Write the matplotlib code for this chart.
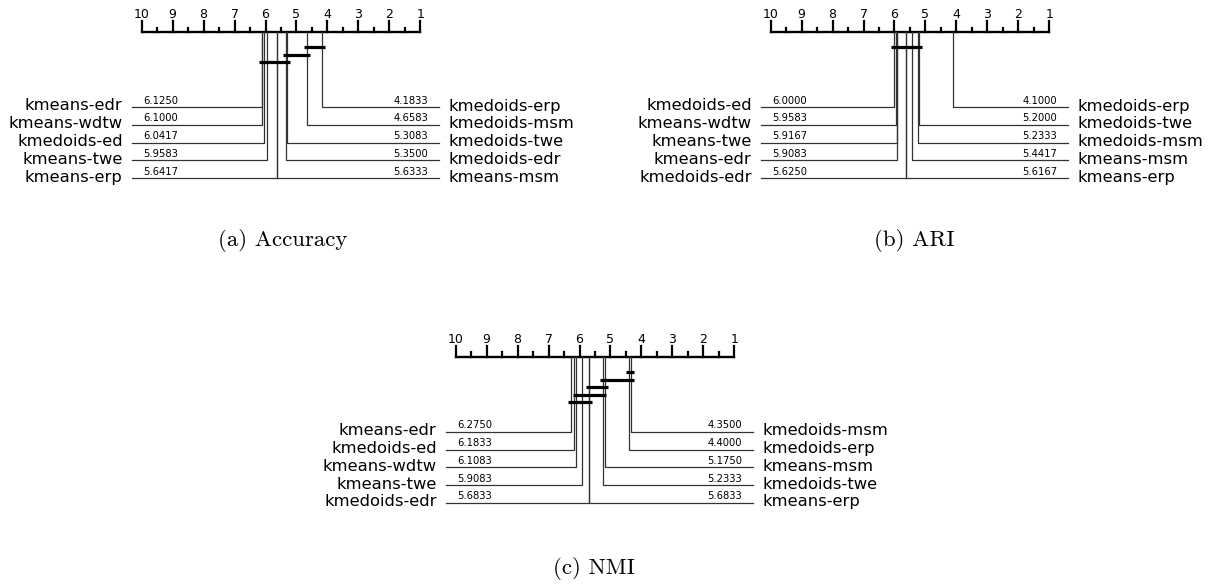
import matplotlib.pyplot as plt

# Average ranks per panel; each side is listed top row first.
acc_left_names = ["kmeans-edr", "kmeans-wdtw", "kmedoids-ed", "kmeans-twe", "kmeans-erp"]
acc_left_ranks = [6.1250, 6.1000, 6.0417, 5.9583, 5.6417]
acc_right_names = ["kmedoids-erp", "kmedoids-msm", "kmedoids-twe", "kmedoids-edr", "kmeans-msm"]
acc_right_ranks = [4.1833, 4.6583, 5.3083, 5.3500, 5.6333]
acc_cliques = [("kmedoids-msm", "kmedoids-erp"),
               ("kmedoids-edr", "kmedoids-msm"),
               ("kmeans-edr", "kmedoids-twe")]

ari_left_names = ["kmedoids-ed", "kmeans-wdtw", "kmeans-twe", "kmeans-edr", "kmedoids-edr"]
ari_left_ranks = [6.0000, 5.9583, 5.9167, 5.9083, 5.6250]
ari_right_names = ["kmedoids-erp", "kmedoids-twe", "kmedoids-msm", "kmeans-msm", "kmeans-erp"]
ari_right_ranks = [4.1000, 5.2000, 5.2333, 5.4417, 5.6167]
ari_cliques = [("kmedoids-ed", "kmedoids-twe")]

nmi_left_names = ["kmeans-edr", "kmedoids-ed", "kmeans-wdtw", "kmeans-twe", "kmedoids-edr"]
nmi_left_ranks = [6.2750, 6.1833, 6.1083, 5.9083, 5.6833]
nmi_right_names = ["kmedoids-msm", "kmedoids-erp", "kmeans-msm", "kmedoids-twe", "kmeans-erp"]
nmi_right_ranks = [4.3500, 4.4000, 5.1750, 5.2333, 5.6833]
nmi_cliques = [("kmedoids-erp", "kmedoids-msm"),
               ("kmedoids-twe", "kmedoids-msm"),
               ("kmedoids-edr", "kmeans-msm"),
               ("kmeans-wdtw", "kmedoids-twe"),
               ("kmeans-edr", "kmedoids-edr")]

W, H = 1214, 585
PPR = 30.95          # pixels per rank unit
LOW, HIGH = 1, 10


def draw_cd(ax, left_names, left_ranks, right_names, right_ranks, cliques):
    px = 1.0 / PPR
    ax.set_xlim(HIGH + 150 * px, HIGH - 450 * px)
    ax.set_ylim(160, -30)
    ax.axis("off")

    # rank scale
    ax.plot([HIGH, LOW], [0, 0], color="k", lw=1.7, solid_capstyle="projecting")
    r = LOW
    while r <= HIGH:
        big = float(r).is_integer()
        ax.plot([r, r], [0, -11 if big else -4.5], color="k", lw=1.6)
        if big:
            ax.text(r, -14, str(int(r)), ha="center", va="baseline", fontsize=9)
        r += 0.5

    row0, step = 75, 17.8
    for i, (name, rank) in enumerate(zip(left_names, left_ranks)):
        y = row0 + i * step
        ax.plot([rank, rank, HIGH + 10 * px], [0, y, y], color="0.2", lw=0.9)
        ax.text(HIGH - 1.5 * px, y - 1.5, f"{rank:.4f}", ha="left", va="bottom", fontsize=7.2)
        ax.text(HIGH + 19 * px, y - 1, name, ha="right", va="center", fontsize=11.8)
    for i, (name, rank) in enumerate(zip(right_names, right_ranks)):
        y = row0 + i * step
        ax.plot([rank, rank, LOW - 19 * px], [0, y, y], color="0.2", lw=0.9)
        ax.text(LOW - 8 * px, y - 1.5, f"{rank:.4f}", ha="right", va="bottom", fontsize=7.2)
        ax.text(LOW - 28.5 * px, y - 1, name, ha="left", va="center", fontsize=11.8)

    lookup = dict(zip(left_names + right_names, left_ranks + right_ranks))
    for k, (worst, best) in enumerate(cliques):
        y = 15.3 + k * 7.5
        ax.plot([lookup[worst] + 3 * px, lookup[best] - 3 * px], [y, y],
                color="k", lw=2.3, solid_capstyle="butt")


fig = plt.figure(figsize=(W / 100, H / 100), dpi=100)
fig.patch.set_facecolor("white")

panels = [
    (141.7, 32.0, acc_left_names, acc_left_ranks, acc_right_names, acc_right_ranks, acc_cliques),
    (770.7, 32.0, ari_left_names, ari_left_ranks, ari_right_names, ari_right_ranks, ari_cliques),
    (455.7, 356.7, nmi_left_names, nmi_left_ranks, nmi_right_names, nmi_right_ranks, nmi_cliques),
]
for x0, y0, ln, lr, rn, rr, cl in panels:
    ax = fig.add_axes([(x0 - 150) / W, 1 - (y0 + 160) / H, 600 / W, 190 / H])
    draw_cd(ax, ln, lr, rn, rr, cl)

captions = [("(a) Accuracy", 283, 241), ("(b) ARI", 914, 241), ("(c) NMI", 594, 568)]
for txt, cx, cy in captions:
    fig.text(cx / W, 1 - cy / H, txt, ha="center", va="center",
             fontsize=16.5, family="cmr10")

fig.savefig("out.png", dpi=100)
